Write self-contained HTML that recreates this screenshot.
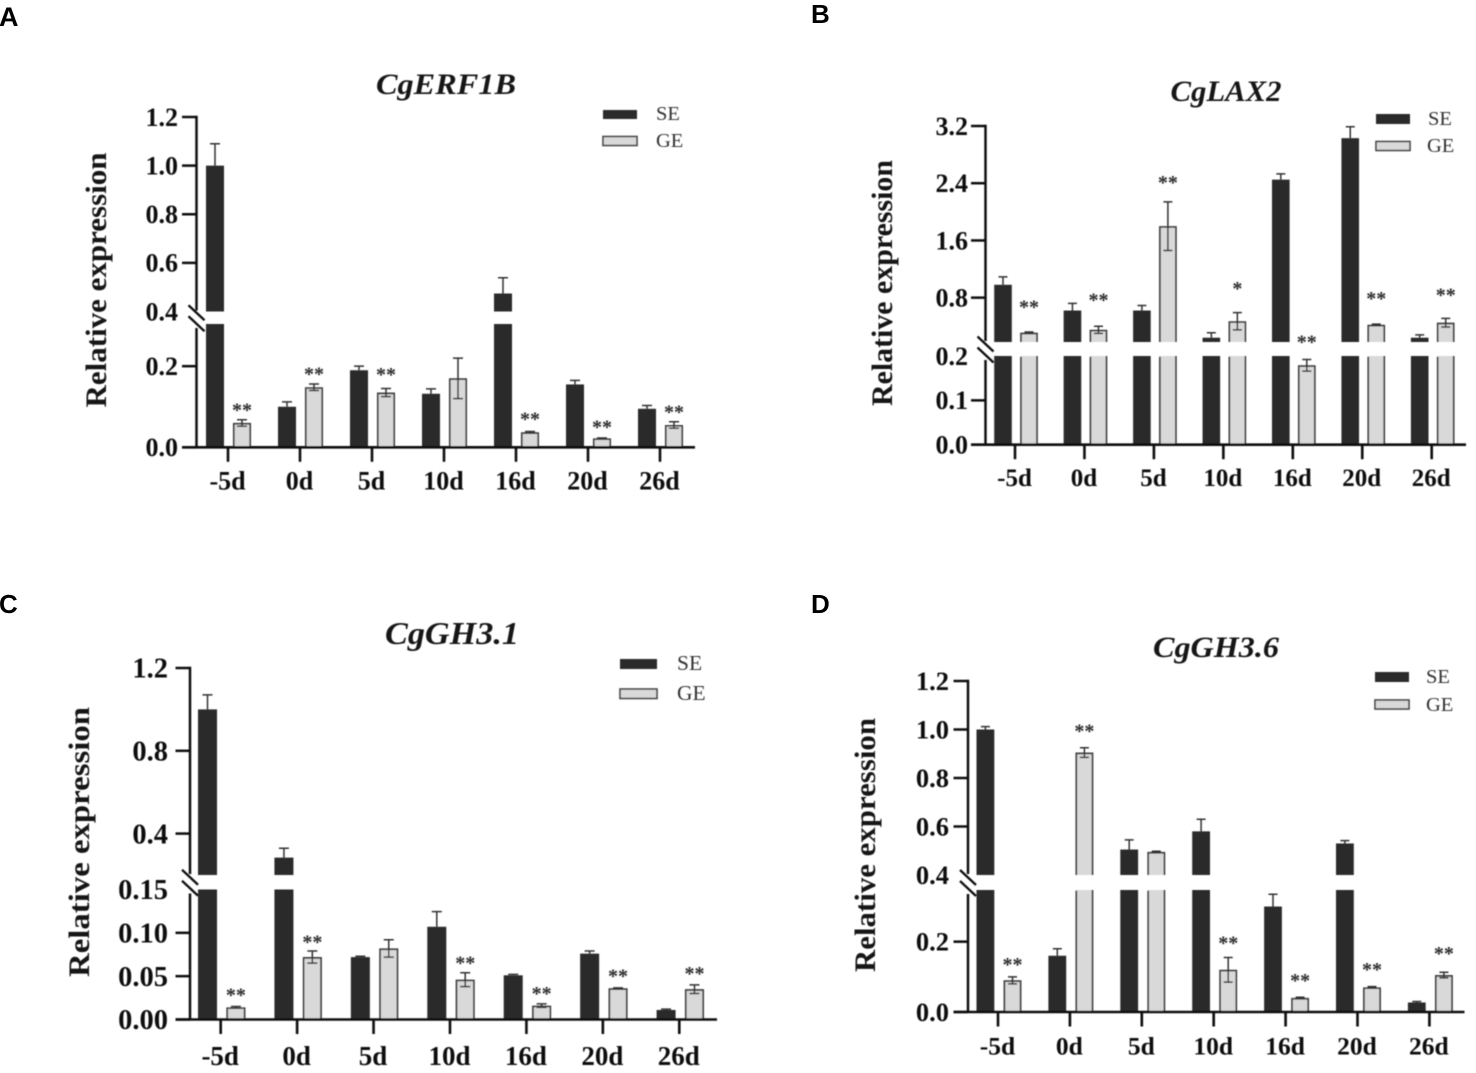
<!DOCTYPE html>
<html>
<head>
<meta charset="utf-8">
<title>Relative expression of CgERF1B, CgLAX2, CgGH3.1 and CgGH3.6</title>
<style>
html,body{margin:0;padding:0;background:#fff;width:1476px;height:1073px;overflow:hidden}
svg{display:block}
.letter{font-family:"Liberation Sans",sans-serif;font-weight:700;fill:#000}
.serif{font-family:"Liberation Serif",serif;fill:#151515}
.title{font-weight:700;font-style:italic;font-size:30px;text-anchor:middle}
.ytitle{font-weight:700;font-size:30px;text-anchor:middle}
.leg{font-size:20.5px;fill:#333}
</style>
</head>
<body>
<svg id="figure" xmlns="http://www.w3.org/2000/svg" width="1476" height="1073" viewBox="0 0 1476 1073">
  <defs><filter id="soft" x="-2%" y="-2%" width="104%" height="104%"><feGaussianBlur stdDeviation="0.55"/></filter></defs>
  <rect width="1476" height="1073" fill="#fff"/>
  <text class="letter" x="-1" y="26" font-size="27">A</text>
  <text class="letter" x="811" y="23" font-size="26">B</text>
  <text class="letter" x="-1" y="613" font-size="26">C</text>
  <text class="letter" x="811" y="613" font-size="26">D</text>
  <g filter="url(#soft)">
    <g>
      <text class="serif title" x="446" y="94" textLength="140" lengthAdjust="spacingAndGlyphs">CgERF1B</text>
      <text class="serif ytitle" transform="translate(106 280) rotate(-90)" textLength="255" lengthAdjust="spacingAndGlyphs">Relative expression</text>
      <rect x="603" y="110" width="34" height="9" fill="#2b2b2b"/>
      <rect x="603" y="136.5" width="34" height="9" fill="#d9d9d9" stroke="#444" stroke-width="1.6"/>
      <text class="serif leg" x="656" y="120">SE</text>
      <text class="serif leg" x="656" y="147">GE</text>
      <g id="marks-a"></g>
    </g>
    <g>
      <text class="serif title" x="1226" y="101" textLength="111" lengthAdjust="spacingAndGlyphs">CgLAX2</text>
      <text class="serif ytitle" transform="translate(892 283) rotate(-90)" textLength="246" lengthAdjust="spacingAndGlyphs">Relative expression</text>
      <rect x="1376" y="114" width="34" height="10" fill="#2b2b2b"/>
      <rect x="1376" y="141.5" width="34" height="9" fill="#d9d9d9" stroke="#444" stroke-width="1.6"/>
      <text class="serif leg" x="1428" y="125">SE</text>
      <text class="serif leg" x="1427" y="152">GE</text>
      <g id="marks-b"></g>
    </g>
    <g>
      <text class="serif title" x="452" y="644" textLength="134" lengthAdjust="spacingAndGlyphs" style="font-size:32px">CgGH3.1</text>
      <text class="serif ytitle" transform="translate(89 842) rotate(-90)" textLength="270" lengthAdjust="spacingAndGlyphs">Relative expression</text>
      <rect x="620" y="659" width="37" height="10" fill="#2b2b2b"/>
      <rect x="620" y="689" width="37" height="9.5" fill="#d9d9d9" stroke="#444" stroke-width="1.6"/>
      <text class="serif leg" x="677" y="670" style="font-size:21.5px">SE</text>
      <text class="serif leg" x="677" y="700" style="font-size:21.5px">GE</text>
      <g id="marks-c"></g>
    </g>
    <g>
      <text class="serif title" x="1216" y="657" textLength="126" lengthAdjust="spacingAndGlyphs">CgGH3.6</text>
      <text class="serif ytitle" transform="translate(875 845) rotate(-90)" textLength="254" lengthAdjust="spacingAndGlyphs">Relative expression</text>
      <rect x="1375" y="672" width="34" height="10" fill="#2b2b2b"/>
      <rect x="1375" y="700" width="34" height="9" fill="#d9d9d9" stroke="#444" stroke-width="1.6"/>
      <text class="serif leg" x="1426" y="683">SE</text>
      <text class="serif leg" x="1426" y="711">GE</text>
      <g id="marks-d"></g>
    </g>
  </g>
</svg>
<script>
// Shared category labels
var categories = ['-5d', '0d', '5d', '10d', '16d', '20d', '26d'];

// Panel A: CgERF1B
var seA = [1.0, 0.1, 0.19, 0.132, 0.474, 0.155, 0.095];
var seErrA = [0.09, 0.012, 0.01, 0.012, 0.065, 0.01, 0.008];
var geA = [0.06, 0.148, 0.135, 0.17, 0.037, 0.022, 0.055];
var geErrA = [0.008, 0.008, 0.01, 0.05, 0.002, 0.001, 0.008];
var sigA = ['**', '**', '**', '', '**', '**', '**'];
var sigAtA = [0.096, 0.185, 0.183, 0, 0.074, 0.054, 0.091];
var ticksA = ['0.0', '0.2', '0.4', '0.6', '0.8', '1.0', '1.2'];

// Panel B: CgLAX2
var seB = [0.98, 0.62, 0.62, 0.24, 2.45, 3.03, 0.24];
var seErrB = [0.11, 0.1, 0.07, 0.07, 0.08, 0.16, 0.04];
var geB = [0.31, 0.35, 1.8, 0.47, 0.179, 0.42, 0.45];
var geErrB = [0.01, 0.05, 0.34, 0.12, 0.013, 0.01, 0.06];
var sigB = ['**', '**', '**', '*', '**', '**', '**'];
var sigAtB = [0.69, 0.79, 2.43, 0.95, 0.201, 0.81, 0.86];
var ticksB = ['0.0', '0.1', '0.2', '0.8', '1.6', '2.4', '3.2'];

// Panel C: CgGH3.1
var seC = [1.0, 0.284, 0.072, 0.107, 0.051, 0.076, 0.011];
var seErrC = [0.07, 0.045, 0.001, 0.0175, 0.001, 0.003, 0.001];
var geC = [0.014, 0.072, 0.082, 0.046, 0.016, 0.036, 0.035];
var geErrC = [0.001, 0.007, 0.01, 0.008, 0.002, 0.0005, 0.005];
var sigC = ['**', '**', '', '**', '**', '**', '**'];
var sigAtC = [0.03, 0.091, 0, 0.067, 0.032, 0.052, 0.055];
var ticksC = ['0.00', '0.05', '0.10', '0.15', '0.4', '0.8', '1.2'];

// Panel D: CgGH3.6
var seD = [1.0, 0.16, 0.505, 0.58, 0.30, 0.53, 0.027];
var seErrD = [0.012, 0.02, 0.04, 0.05, 0.035, 0.012, 0.003];
var geD = [0.09, 0.905, 0.495, 0.12, 0.04, 0.07, 0.105];
var geErrD = [0.01, 0.02, 0.003, 0.035, 0.002, 0.002, 0.008];
var sigD = ['**', '**', '', '**', '**', '**', '**'];
var sigAtD = [0.139, 1.0, 0, 0.2, 0.094, 0.125, 0.17];
var ticksD = ['0.0', '0.2', '0.4', '0.6', '0.8', '1.0', '1.2'];

var SVGNS = 'http://www.w3.org/2000/svg';
var DARK = '#2b2b2b', LIGHT = '#d9d9d9', EDGE = '#3f3f3f', INK = '#111';

function make(tag, parent, attrs) {
  var node = document.createElementNS(SVGNS, tag);
  for (var k in attrs) node.setAttribute(k, attrs[k]);
  parent.appendChild(node);
  return node;
}

function drawPanel(id, layout, se, seErr, ge, geErr, sig, sigAt, ticks) {
  var root = document.getElementById('marks-' + id);
  var el;

  // Piecewise y axis with a break between lowMax and highMin
  function yLow(v) { return layout.y0 + (layout.yLowMax - layout.y0) * v / layout.lowMax; }
  function yHigh(v) { return layout.yHighMin + (layout.yTop - layout.yHighMin) * (v - layout.highMin) / (layout.top - layout.highMin); }
  function y(v) {
    if (v <= layout.lowMax) return yLow(v);
    if (v >= layout.highMin) return yHigh(v);
    return layout.yLowMax + (layout.yHighMin - layout.yLowMax) * (v - layout.lowMax) / (layout.highMin - layout.lowMax);
  }
  function x(i) { return layout.x0 + layout.step * i; }

  function bar(cx, v, filled, name) {
    var w = layout.barW, l = cx - w / 2, r = cx + w / 2;
    var parts = v > layout.lowMax
      ? [[layout.y0, layout.yLowMax, false], [layout.yHighMin, yHigh(v), true]]
      : [[layout.y0, yLow(v), true]];
    parts.forEach(function (p) {
      var yb = p[0], yt = p[1];
      el = make('rect', root, { x: l, y: yt, width: w, height: yb - yt, fill: filled ? DARK : LIGHT });
      
      
      if (!filled) {
        var d = 'M' + (l + 0.8) + ' ' + yb + 'V' + (yt + 0.8) + (p[2] ? 'H' + (r - 0.8) : 'M' + (r - 0.8) + ' ' + yt) + 'V' + yb;
        el = make('path', root, { d: d, fill: 'none', stroke: EDGE, 'stroke-width': 1.7 });
        
        
      }
    });
  }

  function errorBar(cx, v, err, both, name) {
    var top = y(v + err), low = both ? y(Math.max(v - err, 0)) : y(v);
    var c = layout.cap / 2;
    var d = 'M' + cx + ' ' + low + 'V' + top + 'M' + (cx - c) + ' ' + top + 'H' + (cx + c);
    if (both) d += 'M' + (cx - c) + ' ' + low + 'H' + (cx + c);
    el = make('path', root, { d: d, fill: 'none', stroke: '#333', 'stroke-width': 1.5 });
    
    
  }

  // Bars, error bars and significance marks
  categories.forEach(function (cat, i) {
    var cxS = x(i) + layout.offS, cxG = x(i) + layout.offG;
    bar(cxS, se[i], true, 'bar-se-' + cat);
    errorBar(cxS, se[i], seErr[i], false, 'error-bar-se-' + cat);
    bar(cxG, ge[i], false, 'bar-ge-' + cat);
    errorBar(cxG, ge[i], geErr[i], true, 'error-bar-ge-' + cat);
    if (sig[i]) {
      el = make('text', root, { x: cxG, y: y(sigAt[i]) + 8, 'text-anchor': 'middle', 'font-family': '"Liberation Serif",serif', 'font-weight': 700, 'font-size': 20, fill: '#2a2a2a' });
      el.textContent = sig[i];
      
      
    }
  });

  // Y axis (two segments)
  el = make('line', root, { x1: layout.axisX, x2: layout.axisX, y1: layout.yTop - 1.2, y2: layout.yHighMin - 1, stroke: INK, 'stroke-width': 2.5 });
  
  
  el = make('line', root, { x1: layout.axisX, x2: layout.axisX, y1: layout.yLowMax + 4, y2: layout.y0, stroke: INK, 'stroke-width': 2.5 });
  
  

  // Axis break marks
  [-5, 6].forEach(function (shift, k) {
    var my = (layout.yHighMin + layout.yLowMax) / 2 + shift;
    el = make('line', root, { x1: layout.axisX - 8, x2: layout.axisX + 8, y1: my - 7.5, y2: my + 7.5, stroke: INK, 'stroke-width': 2.3 });
    
    
  });

  // Y ticks and labels
  ticks.forEach(function (label) {
    var ty = y(parseFloat(label));
    var isBreakTick = Math.abs(ty - layout.yHighMin) < 1 || Math.abs(ty - layout.yLowMax) < 1;
    if (!isBreakTick) {
      el = make('line', root, { x1: layout.axisX - 14.5, x2: layout.axisX, y1: ty, y2: ty, stroke: INK, 'stroke-width': 2.5 });
      
      
    }
    el = make('text', root, { x: layout.labelX, y: ty + layout.tickFont * 0.34, 'text-anchor': 'end', 'font-family': '"Liberation Serif",serif', 'font-weight': 700, 'font-size': layout.tickFont, fill: '#111' });
    el.textContent = label;
    
    
  });

  // X axis, ticks and labels
  el = make('line', root, { x1: layout.axisX - 14.5, x2: layout.axisEnd, y1: layout.y0, y2: layout.y0, stroke: INK, 'stroke-width': 2.6 });
  
  
  categories.forEach(function (cat, i) {
    el = make('line', root, { x1: x(i), x2: x(i), y1: layout.y0, y2: layout.y0 + 14.5, stroke: INK, 'stroke-width': 2.6 });
    
    
    el = make('text', root, { x: x(i) - 0.5, y: layout.xLabelY, 'text-anchor': 'middle', 'font-family': '"Liberation Serif",serif', 'font-weight': 700, 'font-size': layout.xFont, fill: '#111' });
    el.textContent = cat;
    
    
  });
}

drawPanel('a', { axisX: 196.5, axisEnd: 695, x0: 228, step: 72, offS: -13, offG: 14, barW: 18, cap: 10,
  y0: 447.3, yLowMax: 324, lowMax: 0.304, yHighMin: 311.5, highMin: 0.4, yTop: 117, top: 1.2,
  labelX: 178, tickFont: 26, xFont: 26, xLabelY: 489.5 }, seA, seErrA, geA, geErrA, sigA, sigAtA, ticksA);

drawPanel('b', { axisX: 985.5, axisEnd: 1466, x0: 1015, step: 69.45, offS: -12, offG: 14, barW: 17.6, cap: 9,
  y0: 444.7, yLowMax: 356, lowMax: 0.2, yHighMin: 342, highMin: 0.18, yTop: 126, top: 3.2,
  labelX: 968, tickFont: 26, xFont: 25, xLabelY: 486 }, seB, seErrB, geB, geErrB, sigB, sigAtB, ticksB);

drawPanel('c', { axisX: 190, axisEnd: 717, x0: 220.7, step: 76.43, offS: -13.2, offG: 15.2, barW: 19, cap: 10,
  y0: 1019.5, yLowMax: 889.5, lowMax: 0.15, yHighMin: 875, highMin: 0.2, yTop: 668, top: 1.2,
  labelX: 168, tickFont: 28.5, xFont: 27, xLabelY: 1065 }, seC, seErrC, geC, geErrC, sigC, sigAtC, ticksC);

drawPanel('d', { axisX: 968, axisEnd: 1464.5, x0: 998, step: 71.9, offS: -12.6, offG: 14.5, barW: 17.8, cap: 9,
  y0: 1012, yLowMax: 890, lowMax: 0.347, yHighMin: 875, highMin: 0.4, yTop: 681, top: 1.2,
  labelX: 949, tickFont: 26.5, xFont: 25.5, xLabelY: 1054.5 }, seD, seErrD, geD, geErrD, sigD, sigAtD, ticksD);
</script>
</body>
</html>
